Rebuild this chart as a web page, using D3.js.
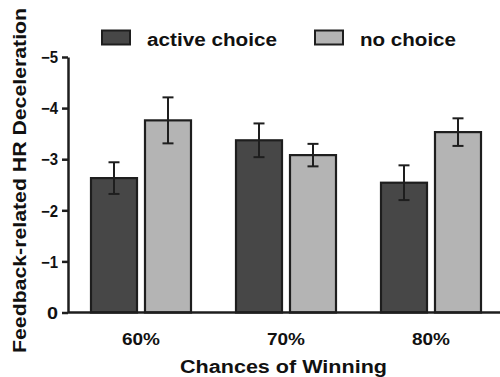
<!DOCTYPE html>
<html><head><meta charset="utf-8">
<script src="https://cdn.jsdelivr.net/npm/d3@7"></script>
<style>body{margin:0;background:#fff}svg{display:block}text{font-family:"Liberation Sans",Arial,sans-serif;font-weight:bold;fill:#111}</style>
</head><body><svg id="c" width="500" height="377"></svg>
<script>
const categories = ["60%", "70%", "80%"];
const seriesNames = ["active choice", "no choice"];
const activeValues = [-2.63, -3.37, -2.54];
const activeErrors = [0.31, 0.33, 0.34];
const noChoiceValues = [-3.76, -3.08, -3.53];
const noChoiceErrors = [0.45, 0.22, 0.27];
const yTicks = [0, -1, -2, -3, -4, -5];
const colors = ["#474747", "#b4b4b4"];

const svg = d3.select("#c");
const y = d3.scaleLinear().domain([0, -5]).range([312.5, 57]);
const x0 = d3.scaleBand().domain(categories).range([68.5, 503.5]).padding(0);
const x1 = d3.scaleBand().domain(seriesNames).range([22.5, 122.5]).paddingInner(0.148).paddingOuter(0);

const data = [];
categories.forEach((c, i) => {
  data.push({cat: c, s: seriesNames[0], v: activeValues[i], e: activeErrors[i], col: colors[0]});
  data.push({cat: c, s: seriesNames[1], v: noChoiceValues[i], e: noChoiceErrors[i], col: colors[1]});
});

// bars
svg.append("g").selectAll("rect").data(data).join("rect")
  .attr("x", d => x0(d.cat) + x1(d.s))
  .attr("y", d => y(d.v))
  .attr("width", x1.bandwidth())
  .attr("height", d => y(0) - y(d.v))
  .attr("fill", d => d.col)
  .attr("stroke", "#1e1e1e").attr("stroke-width", 2.2);

// error bars
const eg = svg.append("g").attr("stroke", "#1e1e1e").attr("stroke-width", 2);
data.forEach(d => {
  const cx = x0(d.cat) + x1(d.s) + x1.bandwidth() / 2;
  eg.append("line").attr("x1", cx).attr("x2", cx).attr("y1", y(d.v - d.e)).attr("y2", y(d.v + d.e));
  eg.append("line").attr("x1", cx - 5.5).attr("x2", cx + 5.5).attr("y1", y(d.v - d.e)).attr("y2", y(d.v - d.e));
  eg.append("line").attr("x1", cx - 5.5).attr("x2", cx + 5.5).attr("y1", y(d.v + d.e)).attr("y2", y(d.v + d.e));
});

// y axis
const ya = svg.append("g").attr("transform", "translate(68,0)")
  .call(d3.axisLeft(y).tickValues(yTicks).tickFormat(d3.format("d")).tickSize(6).tickSizeOuter(0).tickPadding(4));
ya.select(".domain").attr("stroke", "#1e1e1e").attr("stroke-width", 2.5);
ya.selectAll(".tick line").attr("stroke", "#1e1e1e").attr("stroke-width", 2.5);
ya.selectAll(".tick text").attr("font-size", 16).attr("font-family", "Liberation Sans, Arial, sans-serif")
  .attr("font-weight", "bold").attr("fill", "#111").attr("dy", "0.36em")
  .attr("textLength", d => d === 0 ? 11 : 17).attr("lengthAdjust", "spacingAndGlyphs");

// x axis
const xa = svg.append("g").attr("transform", "translate(0,312.5)")
  .call(d3.axisBottom(x0).tickSize(0).tickPadding(20));
xa.select(".domain").attr("d", "M68,0H500").attr("stroke", "#1e1e1e").attr("stroke-width", 2.5);
xa.selectAll(".tick text").attr("font-size", 17).attr("font-family", "Liberation Sans, Arial, sans-serif")
  .attr("font-weight", "bold").attr("fill", "#111")
  .attr("textLength", 38).attr("lengthAdjust", "spacingAndGlyphs");

// axis titles
svg.append("text").attr("x", 283.5).attr("y", 373).attr("text-anchor", "middle")
  .attr("font-size", 18).attr("textLength", 207).attr("lengthAdjust", "spacingAndGlyphs")
  .text("Chances of Winning");
svg.append("text").attr("transform", "translate(26,180.5) rotate(-90)").attr("text-anchor", "middle")
  .attr("font-size", 17.5).attr("textLength", 345).attr("lengthAdjust", "spacingAndGlyphs")
  .text("Feedback-related HR Deceleration");

// legend
const legX = [102, 315];
const legW = [130, 96];
seriesNames.forEach((s, i) => {
  svg.append("rect").attr("x", legX[i]).attr("y", 30.5).attr("width", 28).attr("height", 14)
    .attr("fill", colors[i]).attr("stroke", "#1e1e1e").attr("stroke-width", 2);
  svg.append("text").attr("x", legX[i] + 45).attr("y", 46).attr("font-size", 18)
    .attr("textLength", legW[i]).attr("lengthAdjust", "spacingAndGlyphs").text(s);
});
</script></body></html>
